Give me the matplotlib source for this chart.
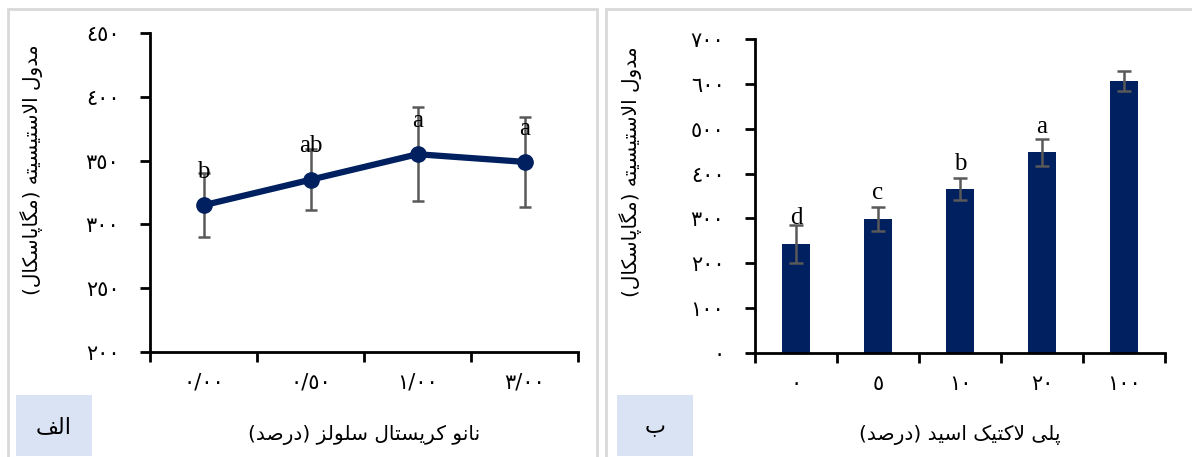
import matplotlib
matplotlib.use("Agg")
import matplotlib.pyplot as plt
from matplotlib.patches import Rectangle

# ---- data ----
ncc_pct = [0.0, 0.5, 1.0, 3.0]
ncc_modulus = [315, 335, 355, 349]
ncc_err = [25, 24, 37, 35]
ncc_groups = ["b", "ab", "a", "a"]

pla_pct = [0, 5, 10, 20, 100]
pla_modulus = [243, 299, 365, 447, 607]
pla_err = [42, 26, 25, 31, 22]
pla_groups = ["d", "c", "b", "a", ""]

ylabel = "مدول الاستیسیته (مگاپاسکال)"
xlabel_ncc = "نانو کریستال سلولز (درصد)"
xlabel_pla = "پلی لاکتیک اسید (درصد)"
panel_ncc = "الف"
panel_pla = "ب"

# ---- arabic/persian shaping (matplotlib has no bidi support) ----
FORMS = {  # isolated, final, initial, medial
    'ا': ('\uFE8D', '\uFE8E', None, None),
    'ب': ('\uFE8F', '\uFE90', '\uFE91', '\uFE92'),
    'پ': ('\uFB56', '\uFB57', '\uFB58', '\uFB59'),
    'ت': ('\uFE95', '\uFE96', '\uFE97', '\uFE98'),
    'د': ('\uFEA9', '\uFEAA', None, None),
    'ر': ('\uFEAD', '\uFEAE', None, None),
    'ز': ('\uFEAF', '\uFEB0', None, None),
    'س': ('\uFEB1', '\uFEB2', '\uFEB3', '\uFEB4'),
    'ص': ('\uFEB9', '\uFEBA', '\uFEBB', '\uFEBC'),
    'ف': ('\uFED1', '\uFED2', '\uFED3', '\uFED4'),
    'ک': ('\uFB8E', '\uFB8F', '\uFB90', '\uFB91'),
    'گ': ('\uFB92', '\uFB93', '\uFB94', '\uFB95'),
    'ل': ('\uFEDD', '\uFEDE', '\uFEDF', '\uFEE0'),
    'م': ('\uFEE1', '\uFEE2', '\uFEE3', '\uFEE4'),
    'ن': ('\uFEE5', '\uFEE6', '\uFEE7', '\uFEE8'),
    'ه': ('\uFEE9', '\uFEEA', '\uFEEB', '\uFEEC'),
    'و': ('\uFEED', '\uFEEE', None, None),
    'ی': ('\uFBFC', '\uFBFD', '\uFBFE', '\uFBFF'),
}
LAM_ALEF = ('\uFEFB', '\uFEFC')


def shape(text):
    text = text.replace('\u064A', '\u06CC').replace('\u0643', '\u06A9')
    tokens = []
    i = 0
    while i < len(text):
        if text[i] == 'ل' and text[i + 1:i + 2] == 'ا':
            tokens.append('لا')
            i += 2
        else:
            tokens.append(text[i])
            i += 1

    def dual(t):
        return t in FORMS and FORMS[t][2] is not None

    out = []
    for k, t in enumerate(tokens):
        prev_joins = k > 0 and dual(tokens[k - 1])
        if t == 'لا':
            out.append(LAM_ALEF[1] if prev_joins else LAM_ALEF[0])
            continue
        if t not in FORMS:
            out.append(t)
            continue
        iso, fin, ini, med = FORMS[t]
        nxt = tokens[k + 1] if k + 1 < len(tokens) else None
        next_joins = ini is not None and (nxt in FORMS or nxt == 'لا')
        if prev_joins and next_joins:
            out.append(med)
        elif prev_joins:
            out.append(fin)
        elif next_joins:
            out.append(ini)
        else:
            out.append(iso)
    mirror = {'(': ')', ')': '('}
    return ''.join(mirror.get(c, c) for c in reversed(out))


DIGITS = str.maketrans("0123456789", "٠١٢٣٤٥٦٧٨٩")


def fa(s):
    return str(s).translate(DIGITS)


NAVY = "#002060"
ERR = "#595959"
AR_FONT = ["DejaVu Sans"]
LAT_FONT = ["Liberation Serif", "DejaVu Serif"]
TICK_FS = 15
LABEL_FS = 14.5

fig = plt.figure(figsize=(11.92, 4.57), dpi=100)

# panel frames
for x0, w in [(8 / 1192, 589 / 1192), (606 / 1192, 600 / 1192)]:
    fig.add_artist(Rectangle((x0, -0.05), w, 1.05 - 9 / 457, transform=fig.transFigure,
                             fill=False, edgecolor="#D9D9D9", linewidth=2))
# panel tags
for x0, tag in [(16 / 1192, panel_ncc), (617 / 1192, panel_pla)]:
    fig.add_artist(Rectangle((x0, 1 / 457), 76 / 1192, 61 / 457, transform=fig.transFigure,
                             facecolor="#DAE3F3", edgecolor="none"))
    fig.text(x0 + 38 / 1192, 30 / 457, shape(tag), ha="center", va="center",
             fontsize=16, family=AR_FONT)


def style_axes(ax):
    for s in ["top", "right"]:
        ax.spines[s].set_visible(False)
    for s in ["left", "bottom"]:
        ax.spines[s].set_linewidth(2)
    ax.tick_params(axis="both", which="major", direction="out", width=2, length=7, labelsize=TICK_FS)
    ax.tick_params(axis="x", which="major", labelbottom=False)
    ax.tick_params(axis="x", which="minor", length=0, pad=15, labelsize=TICK_FS)
    ax.tick_params(axis="y", pad=15)


# ---- left: nanocrystal cellulose ----
ax1 = fig.add_axes([150 / 1192, 105 / 457, 428 / 1192, 319 / 457])
x1 = list(range(len(ncc_pct)))
ax1.errorbar(x1, ncc_modulus, yerr=ncc_err, fmt="none", ecolor=ERR, elinewidth=1.8,
             capsize=4.5, capthick=1.8, zorder=2)
ax1.plot(x1, ncc_modulus, color=NAVY, linewidth=4.5, marker="o", markersize=11, zorder=3)
for xi, yi, g in zip(x1, ncc_modulus, ncc_groups):
    ax1.annotate(g, (xi, yi), xytext=(0, 24), textcoords="offset points",
                 ha="center", va="center", fontsize=18, family=LAT_FONT, zorder=4)
ax1.set_xlim(-0.5, len(ncc_pct) - 0.5)
ax1.set_ylim(200, 450)
ax1.set_yticks(range(200, 451, 50))
ax1.set_yticklabels([fa(v) for v in range(200, 451, 50)], family=AR_FONT)
ax1.set_xticks([i - 0.5 for i in range(len(ncc_pct) + 1)])
ax1.set_xticks(x1, minor=True)
ax1.set_xticklabels([fa(f"{v:.2f}".replace(".", "/")) for v in ncc_pct], minor=True, family=AR_FONT)
style_axes(ax1)
ax1.set_ylabel(shape(ylabel), fontsize=LABEL_FS, family=AR_FONT)
ax1.yaxis.set_label_coords(-0.25, 0.57)
ax1.set_xlabel(shape(xlabel_ncc), fontsize=LABEL_FS, family=AR_FONT)
ax1.xaxis.set_label_coords(0.5, -0.229)

# ---- right: polylactic acid ----
ax2 = fig.add_axes([755 / 1192, 104 / 457, 410 / 1192, 314 / 457])
x2 = list(range(len(pla_pct)))
ax2.bar(x2, pla_modulus, width=0.34, color=NAVY, zorder=2)
ax2.errorbar(x2, pla_modulus, yerr=pla_err, fmt="none", ecolor=ERR, elinewidth=1.8,
             capsize=4.7, capthick=1.8, zorder=3)
for xi, yi, g in zip(x2, pla_modulus, pla_groups):
    if g:
        ax2.annotate(g, (xi, yi), xytext=(0, 18.5), textcoords="offset points",
                     ha="center", va="center", fontsize=18, family=LAT_FONT, zorder=4)
ax2.set_xlim(-0.5, len(pla_pct) - 0.5)
ax2.set_ylim(0, 700)
ax2.set_yticks(range(0, 701, 100))
ax2.set_yticklabels([fa(v) for v in range(0, 701, 100)], family=AR_FONT)
ax2.set_xticks([i - 0.5 for i in range(len(pla_pct) + 1)])
ax2.set_xticks(x2, minor=True)
ax2.set_xticklabels([fa(v) for v in pla_pct], minor=True, family=AR_FONT)
style_axes(ax2)
ax2.set_ylabel(shape(ylabel), fontsize=LABEL_FS, family=AR_FONT)
ax2.yaxis.set_label_coords(-0.276, 0.576)
ax2.set_xlabel(shape(xlabel_pla), fontsize=LABEL_FS, family=AR_FONT)
ax2.xaxis.set_label_coords(0.5, -0.229)

fig.savefig("out.png", dpi=100)
